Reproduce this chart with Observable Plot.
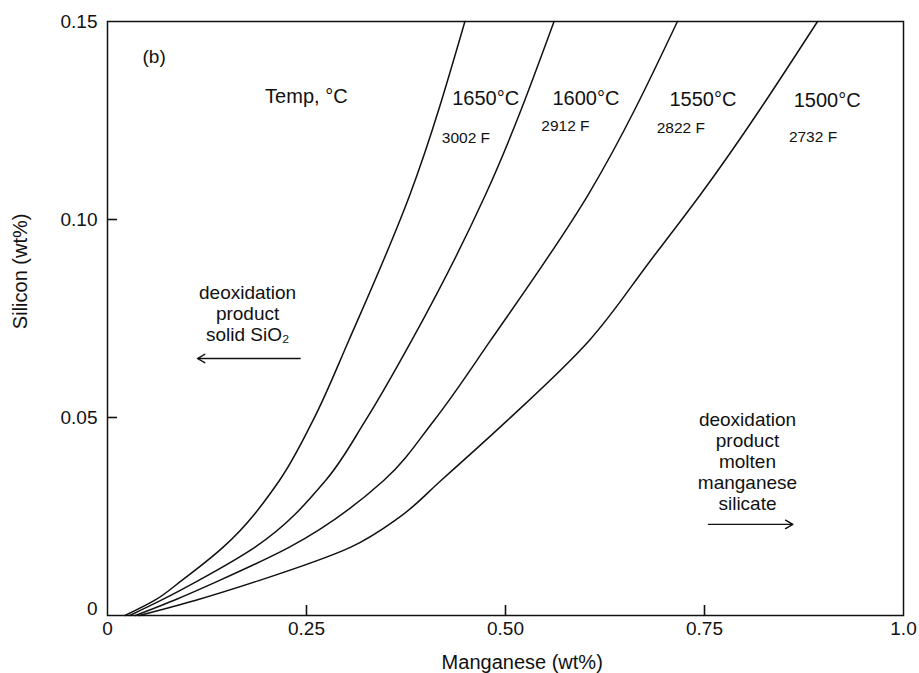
<!DOCTYPE html>
<html><head><meta charset="utf-8">
<script src="https://cdn.jsdelivr.net/npm/d3@7"></script>
<script src="https://cdn.jsdelivr.net/npm/@observablehq/plot@0.6"></script>
<style>body{margin:0;background:#fff}</style>
</head><body><div id="chart"></div>
<script>
// Curve data: Manganese (wt%) vs Silicon (wt%) per temperature
const temps = ["1650°C", "1600°C", "1550°C", "1500°C"];
const fahrenheit = ["3002 F", "2912 F", "2822 F", "2732 F"];

const mn1650 = [0.022, 0.059, 0.093, 0.145, 0.216, 0.258, 0.303, 0.380, 0.449];
const si1650 = [0.000, 0.0038, 0.0088, 0.0172, 0.0341, 0.0492, 0.0694, 0.1063, 0.150];

const mn1600 = [0.028, 0.067, 0.114, 0.185, 0.274, 0.324, 0.382, 0.475, 0.561];
const si1600 = [0.000, 0.0038, 0.0088, 0.0172, 0.0341, 0.0492, 0.0694, 0.1063, 0.150];

const mn1550 = [0.035, 0.083, 0.140, 0.228, 0.347, 0.410, 0.481, 0.604, 0.716];
const si1550 = [0.000, 0.0038, 0.0088, 0.0172, 0.0341, 0.0492, 0.0694, 0.1063, 0.150];

const mn1500 = [0.040, 0.110, 0.190, 0.305, 0.366, 0.419, 0.502, 0.605, 0.682, 0.745, 0.892];
const si1500 = [0.000, 0.0038, 0.0088, 0.0172, 0.0247, 0.0341, 0.0492, 0.0694, 0.0896, 0.1063, 0.150];

// Tick values and labels
const xTicks = [0, 0.25, 0.5, 0.75, 1.0];
const xTickLabels = ["0", "0.25", "0.50", "0.75", "1.0"];
const yTicks = [0.05, 0.10, 0.15];
const yTickLabels = ["0.05", "0.10", "0.15"];
const xInnerTicks = [0.25, 0.5, 0.75];
const yInnerTicks = [0.05, 0.10];

// Label positions (data units)
const tempLabelX = [0.433, 0.559, 0.706, 0.862];
const tempLabelY = [0.1306, 0.1306, 0.1303, 0.1300];
const fLabelX = [0.420, 0.545, 0.690, 0.856];
const fLabelY = [0.1205, 0.1235, 0.1230, 0.1207];

const noteTexts = ["deoxidation\nproduct\nsolid SiO₂", "deoxidation\nproduct\nmolten\nmanganese\nsilicate"];
const noteX = [0.176, 0.804];
const noteY = [0.0763, 0.0390];
const arrowX1 = [0.242, 0.755];
const arrowX2 = [0.113, 0.861];
const arrowY = [0.0649, 0.0230];

const series = [
  [mn1650, si1650], [mn1600, si1600], [mn1550, si1550], [mn1500, si1500]
];
const curveRows = series.flatMap(([mn, si], k) => mn.map((m, i) => ({temp: temps[k], mn: m, si: si[i]})));
const tempRows = temps.map((t, i) => ({t, x: tempLabelX[i], y: tempLabelY[i]}));
const fRows = fahrenheit.map((t, i) => ({t, x: fLabelX[i], y: fLabelY[i]}));
const noteRows = noteTexts.map((t, i) => ({t, x: noteX[i], y: noteY[i]}));
const arrowRows = arrowX1.map((x1, i) => ({x1, x2: arrowX2[i], y: arrowY[i]}));

const font = "'Liberation Sans', Arial, Helvetica, sans-serif";
const W = 919, H = 673, ML = 107, MR = 16, MT = 21, MB = 58, TICK = 10;

const chart = Plot.plot({
  width: W, height: H,
  marginLeft: ML, marginRight: MR, marginTop: MT, marginBottom: MB,
  style: {fontFamily: font, fontSize: "19px", color: "#111", background: "#fff"},
  x: {domain: [0, 1]},
  y: {domain: [0, 0.15]},
  marks: [
    Plot.frame({stroke: "#111", strokeWidth: 1.5}),
    Plot.axisX(xTicks, {tickSize: 0, tickPadding: 6, fontSize: 19, tickFormat: d => xTickLabels[xTicks.indexOf(d)], label: null}),
    Plot.axisY(yTicks, {tickSize: 0, tickPadding: 10, fontSize: 19, tickFormat: d => yTickLabels[yTicks.indexOf(d)], label: null}),
    Plot.axisY([0], {tickSize: 0, tickPadding: 10, fontSize: 19, dy: -7, tickFormat: () => "0", label: null}),
    // inward tick marks
    Plot.tickX(xInnerTicks, {x: d => d, insetTop: H - MT - MB - TICK, stroke: "#111", strokeWidth: 1.6}),
    Plot.tickY(yInnerTicks, {y: d => d, insetRight: W - ML - MR - TICK, stroke: "#111", strokeWidth: 1.6}),
    Plot.line(curveRows, {x: "mn", y: "si", z: "temp", curve: "monotone-y", stroke: "#111", strokeWidth: 1.5}),
    Plot.text(["(b)"], {x: 0.044, y: 0.141, textAnchor: "start", fontSize: 19}),
    Plot.text(["Temp, °C"], {x: 0.198, y: 0.131, textAnchor: "start", fontSize: 20}),
    Plot.text(tempRows, {x: "x", y: "y", text: "t", textAnchor: "start", fontSize: 20}),
    Plot.text(fRows, {x: "x", y: "y", text: "t", textAnchor: "start", fontSize: 15.5}),
    Plot.text(noteRows, {x: "x", y: "y", text: "t", textAnchor: "middle", lineAnchor: "middle", lineHeight: 1.1, fontSize: 19}),
    Plot.arrow(arrowRows, {x1: "x1", x2: "x2", y1: "y", y2: "y", stroke: "#111", strokeWidth: 1.4, headLength: 9, bend: false}),
    Plot.text(["Silicon (wt%)"], {x: 0, y: 0.0869, rotate: -90, dx: -87, fontSize: 20}),
    Plot.text(["Manganese (wt%)"], {x: 0.521, y: 0, dy: 47, fontSize: 20})
  ]
});
document.getElementById("chart").appendChild(chart);
</script>
</body></html>
